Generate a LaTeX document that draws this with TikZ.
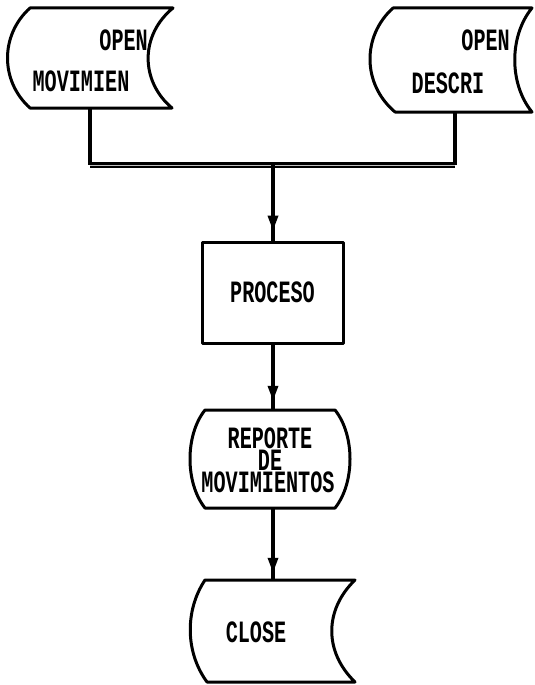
\documentclass[tikz,border=0pt]{standalone}
\usepackage{fontspec}
\newfontfamily\flowfont{Liberation Mono}[FakeStretch=0.65]
\usetikzlibrary{arrows.meta,decorations.markings}
\begin{document}
\begin{tikzpicture}[x=1pt,y=-1pt,
  outline/.style={line width=3pt, line join=round},
  flowtext/.style={font=\flowfont\bfseries\fontsize{31}{22}\selectfont, inner sep=0pt, align=center},
  area/.style={rectangle, draw=none, inner sep=0pt, outer sep=0pt},
  link/.style={line width=3.2pt},
  joinbar/.style={draw=black, line width=2.3pt, double=gray!50, double distance=0.9pt},
  midarrow/.style={postaction={decorate},
    decoration={markings, mark=at position #1 with {\arrow{Triangle[length=15pt,width=10pt]}}}}
]
\useasboundingbox (0,0) rectangle (535,685);

% stored-data symbol: movements file
\draw[outline] (30,8) -- (173,8) .. controls (140,35) and (140,81) .. (172,108)
  -- (30,108) .. controls (0,81) and (0,35) .. (30,8) -- cycle;
\node[area, minimum width=143pt, minimum height=100pt] (movfile) at (101.5,58) {};
\node[flowtext, anchor=east] (movopen) at (148,40) {OPEN};
\node[flowtext] (movname) at (81,81) {MOVIMIEN};

% stored-data symbol: descriptions file
\draw[outline] (393,8) -- (532,8) .. controls (509,36) and (509,84) .. (532,112)
  -- (395,112) .. controls (362,84) and (362,36) .. (393,8) -- cycle;
\node[area, minimum width=139pt, minimum height=104pt] (desfile) at (462.5,60) {};
\node[flowtext, anchor=east] (desopen) at (510,40) {OPEN};
\node[flowtext] (desname) at (448,83) {DESCRI};

% process box
\node[draw, outline, minimum width=141pt, minimum height=101pt, flowtext]
  (proc) at (272.5,292.5) {PROCESO};

% report terminal
\draw[outline] (205,410) -- (335,410) .. controls (355,435) and (355,483) .. (335,508)
  -- (205,508) .. controls (185,483) and (185,435) .. (205,410) -- cycle;
\node[area, minimum width=130pt, minimum height=98pt] (report) at (273,459) {};
\node[flowtext] (reptitle) at (270,438) {REPORTE};
\node[flowtext] (repde) at (270,460) {DE};
\node[flowtext] (repmov) at (268,482) {MOVIMIENTOS};

% close file
\draw[outline] (205,580) -- (355,580) .. controls (324,610) and (324,652) .. (355,682)
  -- (207,682) .. controls (185,652) and (185,610) .. (205,580) -- cycle;
\node[area, minimum width=150pt, minimum height=102pt] (close) at (273,631) {};
\node[flowtext] (closetext) at (256,632) {CLOSE};

% joining bar and connectors
\coordinate (barL) at (90,165);
\coordinate (barR) at (455,165);
\coordinate (barM) at (273,165);
\draw[link] (barL |- movfile.south) -- (barL);
\draw[link] (barR |- desfile.south) -- (barR);
\draw[joinbar] (barL) -- (barR);
\draw[link, midarrow=0.87] (barM) -- (proc.north -| barM);
\draw[link, midarrow=0.86] (proc.south -| barM) -- (report.north);
\draw[link, midarrow=0.9] (report.south) -- (close.north);
\end{tikzpicture}
\end{document}
